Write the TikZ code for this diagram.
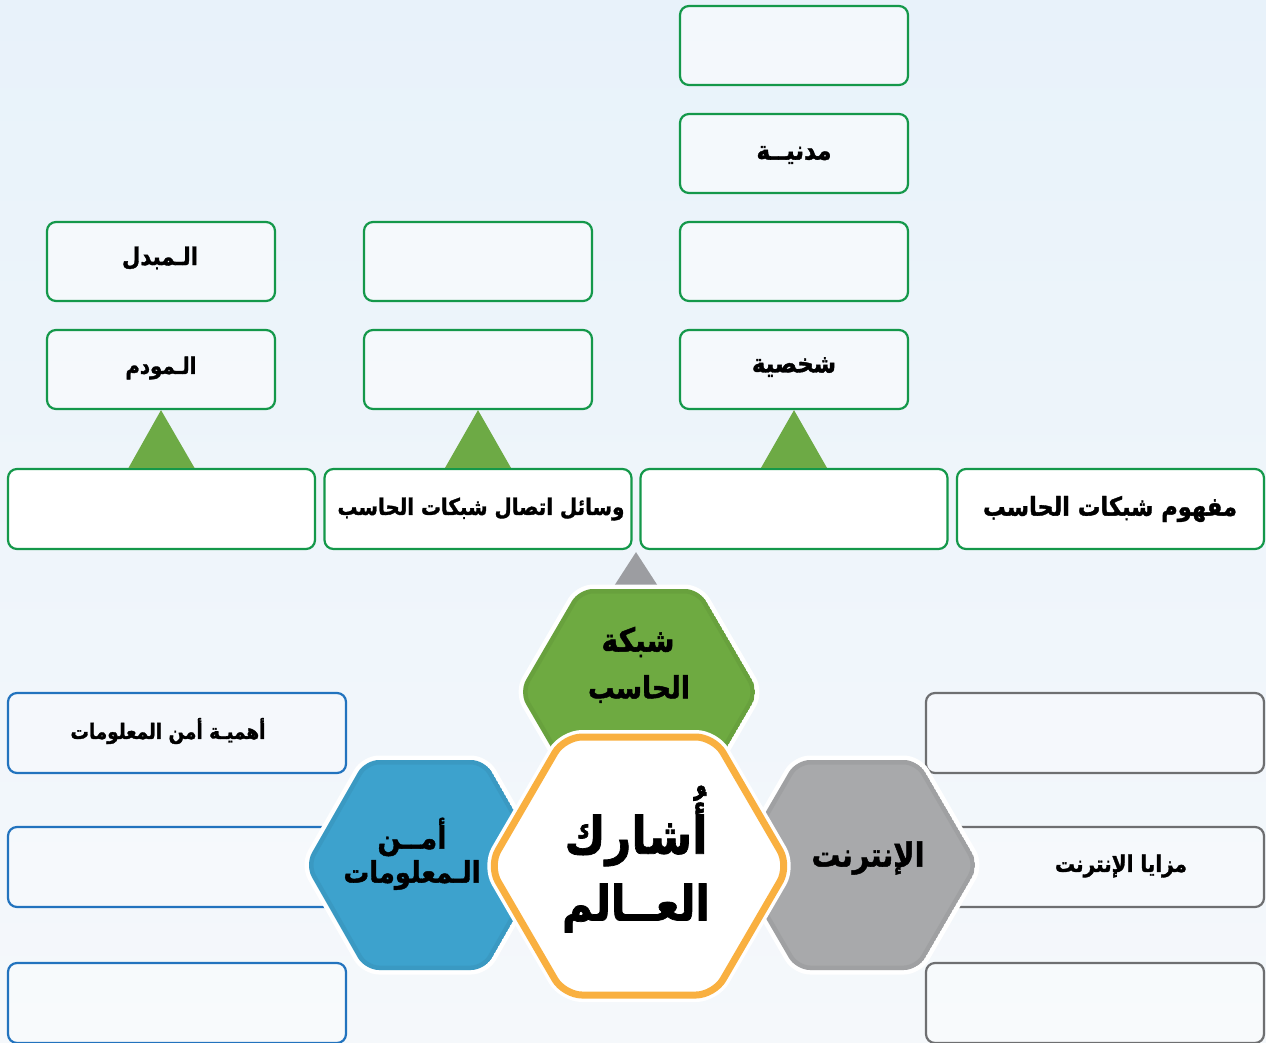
\documentclass[tikz,border=0pt]{standalone}
\usepackage{fontspec}
\usepackage{graphicx}
\TeXXeTstate=1
\newfontfamily\arabicfont[Script=Arabic, BoldFeatures={FakeBold=1.5}]{DejaVu Sans}
\usetikzlibrary{calc}
\definecolor{bgtop}{HTML}{E8F2FA}
\definecolor{bgbot}{HTML}{F5F8FB}
\definecolor{gline}{HTML}{14984A}
\definecolor{gtri}{HTML}{6DAA45}
\definecolor{ghex}{HTML}{6EAA41}
\definecolor{bhex}{HTML}{3DA2CD}
\definecolor{grhex}{HTML}{A8A9AB}
\definecolor{orng}{HTML}{F9B040}
\definecolor{bline}{HTML}{2273BE}
\definecolor{grline}{HTML}{6E6F71}
\definecolor{grtri}{HTML}{9C9DA1}
\newcommand\artxt[2]{\scalebox{1}[1.15]{\resizebox{#1}{!}{\arabicfont\bfseries #2}}}
\newcommand\hexshape[5]{%
  \path[#1] ({#2-#4},#3) -- ({#2-#4/2},{#3-#5}) -- ({#2+#4/2},{#3-#5}) -- ({#2+#4},#3) -- ({#2+#4/2},{#3+#5}) -- ({#2-#4/2},{#3+#5}) -- cycle;}
\newcommand\colhex[5]{% colour, cx, cy, R, h
  \hexshape{draw=white,line width=9,rounded corners=14}{#2}{#3}{#4}{#5}
  \begin{scope}
    \hexshape{clip,rounded corners=14}{#2}{#3}{#4}{#5}
    \hexshape{fill=#1, draw=#1!75!black, draw opacity=0.2, line width=9, rounded corners=14}{#2}{#3}{#4}{#5}
  \end{scope}}
\begin{document}
\begin{tikzpicture}[x=1pt,y=-1pt,
  box/.style={rounded corners=9pt, line width=2.2pt, minimum width=228pt, minimum height=79pt, inner sep=0pt},
  topbox/.style={box, draw=gline, fill=white, fill opacity=0.5, draw opacity=1},
  rowbox/.style={box, draw=gline, fill=white, minimum width=307pt, minimum height=80pt},
  lbox/.style={box, draw=bline, fill=white, fill opacity=0.3, draw opacity=1, minimum width=338pt, minimum height=80pt},
  rbox/.style={box, draw=grline, fill=white, fill opacity=0.3, draw opacity=1, minimum width=338pt, minimum height=80pt},
  lbl/.style={inner sep=0pt, text=black},
  tri/.style={fill=gtri},
]
\useasboundingbox (0,0) rectangle (1266,1042);
\clip (0,0) rectangle (1266,1042);
\shade[top color=bgtop, bottom color=bgbot] (0,0) rectangle (1266,1042);

% upper boxes
\node[topbox] (c3a) at (794,45.5) {};
\node[topbox] (c3b) at (794,153.5) {};
\node[topbox] (c3c) at (794,261.5) {};
\node[topbox] (c3d) at (794,369.5) {};
\node[topbox] (c1a) at (161,261.5) {};
\node[topbox] (c1b) at (161,369.5) {};
\node[topbox] (c2a) at (478,261.5) {};
\node[topbox] (c2b) at (478,369.5) {};
% row of boxes
\node[rowbox] (r1) at (161.5,509) {};
\node[rowbox] (r2) at (478,509) {};
\node[rowbox] (r3) at (794,509) {};
\node[rowbox] (r4) at (1110.5,509) {};
% green triangles
\fill[tri] ($(r1.north)+(-33,0)$) -- (c1b.south) -- ($(r1.north)+(33,0)$) -- cycle;
\fill[tri] ($(r2.north)+(-33,0)$) -- (c2b.south) -- ($(r2.north)+(33,0)$) -- cycle;
\fill[tri] ($(r3.north)+(-33,0)$) -- (c3d.south) -- ($(r3.north)+(33,0)$) -- cycle;
% gray triangle
\coordinate (gap) at ($(r2.south east)!0.5!(r3.south west)+(0,2)$);
\fill[grtri] (gap) -- ($(gap)+(22,34)$) -- ($(gap)+(-22,34)$) -- cycle;

% lower side boxes
\node[lbox] (la) at (177,733) {};
\node[lbox] (lb) at (177,867) {};
\node[lbox] (lc) at (177,1003) {};
\node[rbox] (ra) at (1095,733) {};
\node[rbox] (rb) at (1095,867) {};
\node[rbox] (rc) at (1095,1003) {};

% hexagons
\colhex{ghex}{639}{692}{120}{103}
\colhex{bhex}{425}{865}{120}{105}
\colhex{grhex}{857}{865}{122}{105}
\hexshape{draw=white,line width=14,rounded corners=18}{639}{866}{150}{129}
\hexshape{draw=orng,line width=7,fill=white,rounded corners=18}{639}{866}{150}{129}

% labels
\node[lbl] (t1) at (160,258) {\artxt{76pt}{\beginR الـمبدل\endR}};
\node[lbl] (t2) at (161,368) {\artxt{71pt}{\beginR الـمودم\endR}};
\node[lbl] (t3) at (794,155) {\artxt{75pt}{\beginR مدنيــة\endR}};
\node[lbl] (t4) at (794,367) {\artxt{84pt}{\beginR شخصية\endR}};
\node[lbl] (t5) at (481,509) {\artxt{287pt}{\beginR وسائل اتصال شبكات الحاسب\endR}};
\node[lbl] (t6) at (1110,509) {\artxt{254pt}{\beginR مفهوم شبكات الحاسب\endR}};
\node[lbl] (t7) at (168,731) {\artxt{195pt}{\beginR أهميـة أمن المعلومات\endR}};
\node[lbl] (t8) at (1121,866) {\artxt{132pt}{\beginR مزايا الإنترنت\endR}};
\node[lbl] (h1) at (638,642) {\artxt{73pt}{\beginR شبكة\endR}};
\node[lbl] (h2) at (639,689) {\artxt{102pt}{\beginR الحاسب\endR}};
\node[lbl] (h3) at (636,826) {\artxt{143pt}{\beginR أُشارك\endR}};
\node[lbl] (h4) at (636,908) {\artxt{148pt}{\beginR العــالم\endR}};
\node[lbl] (h5) at (412,837) {\artxt{69pt}{\beginR أمــن\endR}};
\node[lbl] (h6) at (412,875) {\artxt{137pt}{\beginR الـمعلومات\endR}};
\node[lbl] (h7) at (868,858) {\artxt{113pt}{\beginR الإنترنت\endR}};
\end{tikzpicture}
\end{document}
